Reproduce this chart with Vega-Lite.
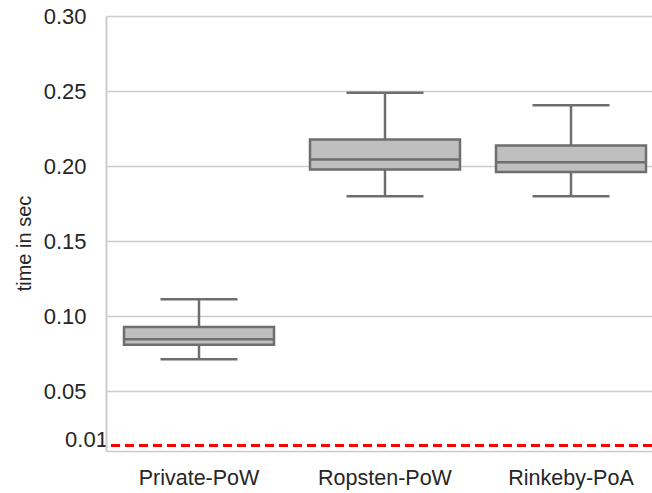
{
  "$schema": "https://vega.github.io/schema/vega-lite/v6.json",
  "width": 546,
  "height": 435,
  "autosize": {"type": "none"},
  "padding": {"left": 106, "top": 16, "right": 0, "bottom": 42},
  "background": "white",
  "config": {
    "view": {"stroke": null},
    "font": "Liberation Sans"
  },
  "data": {
    "values": [
      {"network": "Private-PoW", "lower": 0.0711, "q1": 0.0809, "median": 0.0845, "q3": 0.0927, "upper": 0.1111},
      {"network": "Ropsten-PoW", "lower": 0.1798, "q1": 0.1976, "median": 0.2043, "q3": 0.2176, "upper": 0.2489},
      {"network": "Rinkeby-PoA", "lower": 0.1798, "q1": 0.1960, "median": 0.2025, "q3": 0.2136, "upper": 0.2405}
    ]
  },
  "encoding": {
    "x": {
      "field": "network",
      "type": "nominal",
      "sort": ["Private-PoW", "Ropsten-PoW", "Rinkeby-PoA"],
      "scale": {"range": [0, 558], "paddingInner": 0, "paddingOuter": 0},
      "axis": {
        "title": null,
        "labelAngle": 0,
        "ticks": false,
        "domain": false,
        "labelPadding": 16,
        "labelFontSize": 21.5,
        "labelColor": "#262626",
        "labelFont": "Liberation Sans"
      }
    }
  },
  "layer": [
    {
      "mark": {"type": "rule", "color": "#6e6e6e", "strokeWidth": 2.5},
      "encoding": {
        "y": {
          "field": "lower",
          "type": "quantitative",
          "scale": {"domain": [0.01, 0.30], "nice": false, "zero": false},
          "axis": {
            "title": "time in sec",
            "values": [0.01, 0.05, 0.1, 0.15, 0.2, 0.25, 0.3],
            "format": ".2f",
            "grid": true,
            "gridColor": "#cccccc",
            "gridWidth": 1.5,
            "domainColor": "#cccccc",
            "domainWidth": 2,
            "ticks": false,
            "labelPadding": 20,
            "labelFontSize": 22,
            "labelColor": "#262626",
            "labelFont": "Liberation Sans",
            "labelBaseline": {"condition": {"test": "datum.value < 0.02", "value": "bottom"}, "value": "middle"},
            "labelAlign": {"condition": {"test": "datum.value < 0.02", "value": "center"}, "value": "right"},
            "titleFontSize": 20,
            "titleFontWeight": "normal",
            "titleColor": "#262626",
            "titleFont": "Liberation Sans",
            "titleX": -82,
            "titleY": 227,
            "titleBaseline": "middle",
            "titleAlign": "center",
            "titleAngle": -90
          }
        },
        "y2": {"field": "upper"}
      }
    },
    {
      "mark": {"type": "bar", "size": 150, "fill": "#bfbfbf", "stroke": "#6e6e6e", "strokeWidth": 2.5},
      "encoding": {
        "y": {"field": "q1", "type": "quantitative"},
        "y2": {"field": "q3"}
      }
    },
    {
      "mark": {"type": "tick", "size": 150, "thickness": 2.5, "color": "#6e6e6e", "opacity": 1},
      "encoding": {
        "y": {"field": "median", "type": "quantitative"}
      }
    },
    {
      "mark": {"type": "tick", "size": 77, "thickness": 2.5, "color": "#6e6e6e", "opacity": 1},
      "encoding": {
        "y": {"field": "upper", "type": "quantitative"}
      }
    },
    {
      "mark": {"type": "tick", "size": 77, "thickness": 2.5, "color": "#6e6e6e", "opacity": 1},
      "encoding": {
        "y": {"field": "lower", "type": "quantitative"}
      }
    },
    {
      "data": {"values": [{"threshold": 0.0137}]},
      "mark": {"type": "rule", "color": "#ff0000", "strokeWidth": 3, "strokeDash": [9, 5]},
      "encoding": {
        "x": null,
        "y": {"field": "threshold", "type": "quantitative"}
      }
    }
  ]
}
